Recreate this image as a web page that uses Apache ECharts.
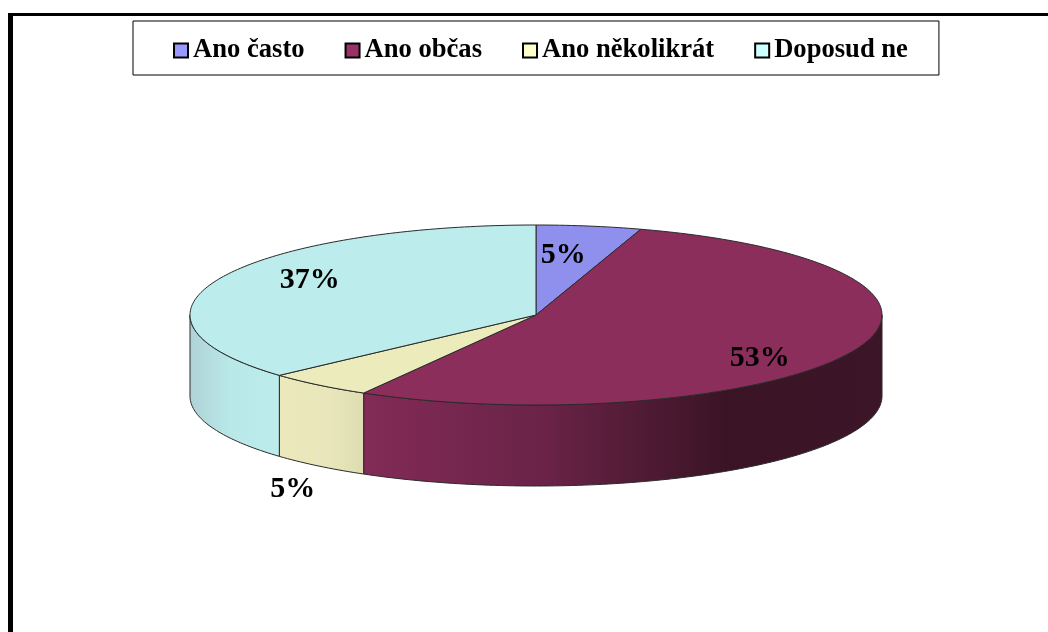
<!DOCTYPE html>
<html>
<head>
<meta charset="utf-8">
<title>Chart</title>
<script src="https://cdn.jsdelivr.net/npm/echarts@6/dist/echarts.min.js"></script>
<style>
  html,body{margin:0;padding:0;background:#fff}
  #chart{width:1048px;height:632px}
</style>
</head>
<body>
<div id="chart"></div>
<script>
// data
let categories = ['Ano často', 'Ano občas', 'Ano několikrát', 'Doposud ne']
let values = [4.9, 53.4, 5.0, 36.7]

// colours
let legendColors = ['#9999ff', '#993366', '#ffffcc', '#ccffff']
let topColors = ['#8f8fee', '#8c2e5b', '#ecebbc', '#bcecec']
let sideStops = [
  [[0, '#8f8fee'], [1, '#8f8fee']],
  [[0, '#822b57'], [0.35, '#6a2347'], [0.7, '#3a1425'], [1, '#3d1528']],
  [[0, '#ebe9bc'], [0.6, '#e8e6ba'], [1, '#dedcb1']],
  [[0, '#b0d2d6'], [0.45, '#b9e8e8'], [1, '#bcecec']]
]

// pie layout
let cx = 536, cy = 315, rx = 346, ry = 90, depth = 81
let labelRadius = [0.7, 0.7, 1, 0.7]
let labelNudge = [[-10, 3], [2, 18], [-26, 104], [-5, -9]]
let fontFamily = '"Liberation Serif", "Times New Roman", serif'

let total = values.reduce((a, b) => a + b, 0)
let starts = []
values.reduce((sum, v, i) => { starts[i] = sum; return sum + v }, 0)

function ellipsePoint(deg, dy) {
  let r = deg * Math.PI / 180
  return [cx + rx * Math.sin(r), cy - ry * Math.cos(r) + (dy || 0)]
}
function arc(a, b, dy) {
  let pts = []
  let n = Math.max(2, Math.ceil(Math.abs(b - a)))
  for (let i = 0; i <= n; i++) pts.push(ellipsePoint(a + (b - a) * i / n, dy))
  return pts
}

function renderSlice(i, params, api) {
  let value = api.value(0)
  let a = starts[i] / total * 360
  let b = a + value / total * 360
  let children = []
  // front wall, only the part between 90 and 270 degrees shows
  let s = Math.max(a, 90), e = Math.min(b, 270)
  if (e > s) {
    children.push({
      type: 'polygon',
      z2: 1,
      shape: { points: arc(s, e, 0).concat(arc(e, s, depth)) },
      style: {
        fill: new echarts.graphic.LinearGradient(0, 0, 1, 0, sideStops[i].map(t => ({ offset: t[0], color: t[1] }))),
        stroke: '#2a2a2a',
        lineWidth: 1
      }
    })
  }
  // top face
  children.push({
    type: 'polygon',
    z2: 2,
    shape: { points: [[cx, cy]].concat(arc(a, b, 0)) },
    style: { fill: topColors[i], stroke: '#2a2a2a', lineWidth: 1 }
  })
  // percent label
  let mid = ellipsePoint((a + b) / 2, 0)
  children.push({
    type: 'text',
    z2: 3,
    x: cx + (mid[0] - cx) * labelRadius[i] + labelNudge[i][0],
    y: cy + (mid[1] - cy) * labelRadius[i] + labelNudge[i][1],
    style: {
      text: Math.round(value) + '%',
      fill: '#000',
      font: 'bold 30px ' + fontFamily,
      align: 'center',
      verticalAlign: 'middle'
    }
  })
  return { type: 'group', children: children }
}

let myChart = echarts.init(document.getElementById('chart'), null, { renderer: 'canvas' })
myChart.setOption({
  animation: false,
  backgroundColor: '#fff',
  legend: {
    left: 133,
    top: 21,
    orient: 'horizontal',
    padding: [16, 31, 11, 40],
    itemWidth: 14,
    itemHeight: 14,
    itemGap: 40,
    icon: 'rect',
    borderColor: '#000',
    borderWidth: 1,
    textStyle: { fontFamily: fontFamily, fontWeight: 'bold', fontSize: 26.6, color: '#000' },
    data: categories.map((name, i) => ({
      name: name,
      itemStyle: { color: legendColors[i], borderColor: '#000', borderWidth: 2 }
    }))
  },
  graphic: [
    // frame of the original picture: top and left only
    { type: 'rect', shape: { x: 8, y: 13, width: 1040, height: 3 }, style: { fill: '#000' } },
    { type: 'rect', shape: { x: 8, y: 13, width: 5, height: 619 }, style: { fill: '#000' } }
  ],
  series: categories.map((name, i) => ({
    type: 'custom',
    name: name,
    coordinateSystem: 'none',
    silent: true,
    itemStyle: { color: legendColors[i] },
    data: [[values[i]]],
    renderItem: (params, api) => renderSlice(i, params, api)
  }))
})
</script>
</body>
</html>
